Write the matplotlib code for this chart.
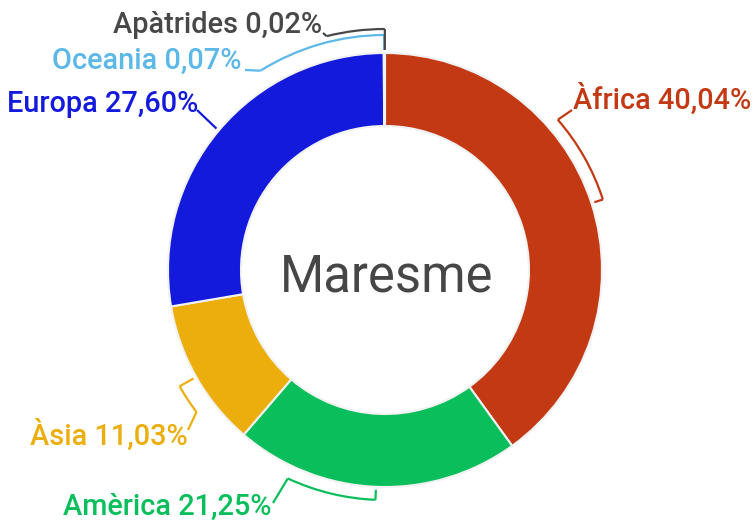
import numpy as np
import matplotlib
matplotlib.use("Agg")
import matplotlib.pyplot as plt
from matplotlib.patches import Arc

# ---- data ----
categories = ["Àfrica", "Amèrica", "Àsia", "Europa", "Oceania", "Apàtrides"]
values = [40.04, 21.25, 11.03, 27.60, 0.07, 0.02]
labels = ["Àfrica 40,04%", "Amèrica 21,25%", "Àsia 11,03%", "Europa 27,60%",
          "Oceania 0,07%", "Apàtrides 0,02%"]
colors = ["#C33914", "#0ABF5B", "#EBAE0C", "#141ADC", "#5CB8E6", "#484848"]
title = "Maresme"

# ---- layout (pixel units, y from top) ----
W, H = 754, 520
CX, CY = 385, 270
R_OUT, R_IN = 217, 144
R_TICK = 220
# per label: bracket end angle (deg, clockwise from top; None = mid), arc radius,
# connector end point, text anchor (x, baseline y, ha)
layout = {
    "Àfrica":    (49,   229, (572, 110), (573, 109, "left")),
    "Amèrica":   (205,  230, (273, 503), (63, 515, "left")),
    "Àsia":      (233,  236, (188, 430), (30, 445, "left")),
    "Europa":    (None, 220, (197, 110), (7, 112, "left")),
    "Oceania":   (328,  235, (245, 70),  (52, 69, "left")),
    "Apàtrides": (346,  241, (323, 33),  (322, 33, "right")),
}

plt.rcParams['font.family'] = ['Roboto', 'DejaVu Sans']

fig = plt.figure(figsize=(W / 100, H / 100), dpi=100)
ax = fig.add_axes([0, 0, 1, 1])


def D(x, y):
    return x, H - y


def polar(theta, r):
    t = np.deg2rad(theta)
    return CX + r * np.sin(t), (H - CY) + r * np.cos(t)


ax.pie(values, colors=colors, startangle=90, counterclock=False,
       radius=R_OUT, center=D(CX, CY),
       wedgeprops=dict(width=R_OUT - R_IN, edgecolor="#f2f2f2", linewidth=1.5))

total = sum(values)
start = 0.0
lw = 1.6
for cat, v, lab, col in zip(categories, values, labels, colors):
    span = v / total * 360
    mid = start + span / 2
    start += span
    th_end, r_arc, conn, txt = layout[cat]
    if th_end is None:
        th_end = mid
    # tick
    x0, y0 = polar(mid, R_TICK)
    x1, y1 = polar(mid, r_arc)
    ax.plot([x0, x1], [y0, y1], color=col, lw=lw, solid_capstyle="butt")
    # arc
    if abs(th_end - mid) > 0.01:
        a1, a2 = 90 - mid, 90 - th_end
        t1, t2 = min(a1, a2), max(a1, a2)
        ax.add_patch(Arc(D(CX, CY), 2 * r_arc, 2 * r_arc, theta1=t1, theta2=t2,
                         color=col, lw=lw))
    # connector to label
    xe, ye = polar(th_end, r_arc)
    cx_, cy_ = D(*conn)
    ax.plot([xe, cx_], [ye, cy_], color=col, lw=lw, solid_capstyle="butt")
    tx, ty = D(txt[0], txt[1])
    ax.text(tx, ty, lab, color=col, fontsize=20.8, fontweight="medium",
            ha=txt[2], va="baseline")

ax.text(*D(387, 291), title, color="#464646", fontsize=36.5,
        ha="center", va="baseline")

ax.set_xlim(0, W)
ax.set_ylim(0, H)
ax.set_aspect("equal")
ax.axis("off")
fig.savefig("out.png", dpi=100)
